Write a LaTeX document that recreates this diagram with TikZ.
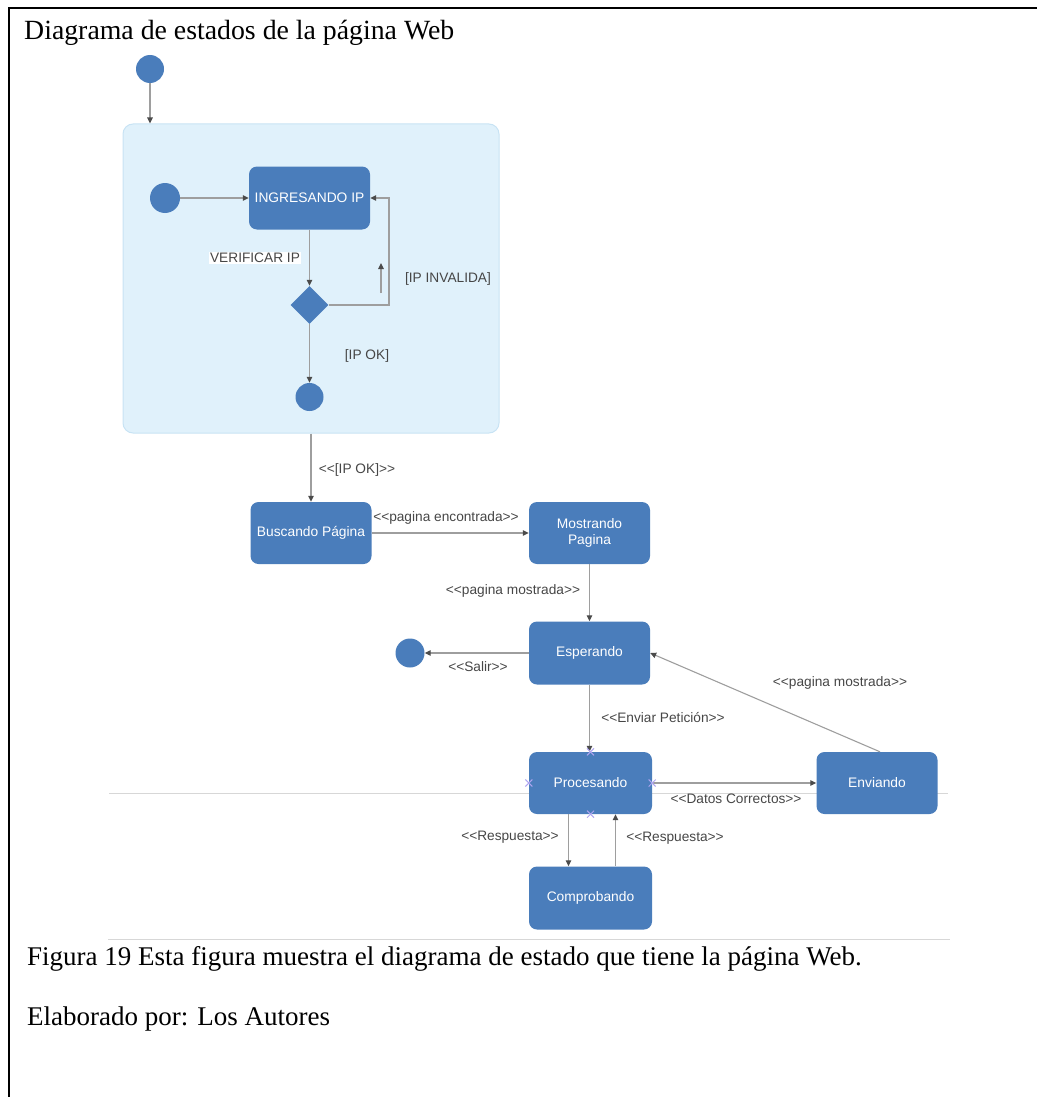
\documentclass[tikz,border=0pt]{standalone}
\usepackage{fontspec}
\setmainfont{Liberation Serif}
\newfontfamily\lbl{Liberation Sans}
\usetikzlibrary{arrows.meta,shapes.geometric,shapes.misc}

\definecolor{boxblue}{RGB}{74,125,187}
\definecolor{contfill}{RGB}{224,241,251}
\definecolor{contdraw}{RGB}{200,227,244}
\definecolor{linegray}{RGB}{158,158,158}
\definecolor{tipgray}{RGB}{75,75,75}
\definecolor{textgray}{RGB}{70,70,70}
\definecolor{markpurple}{RGB}{175,165,240}
\definecolor{rulegray}{RGB}{215,215,215}

% guillemet-like brackets kept as two separate characters
\newcommand\lgl{<\kern0pt<}
\newcommand\rgl{>\kern0pt>}

\tikzset{
  statebox/.style={fill=boxblue, rounded corners=8pt, text=white, align=center,
    minimum width=121pt, minimum height=62pt, inner sep=2pt,
    font=\lbl\fontsize{13.8}{16}\selectfont},
  dot/.style={circle, fill=boxblue, minimum size=28pt, inner sep=0pt},
  choice/.style={diamond, fill=boxblue, minimum size=38pt, inner sep=0pt},
  arr/.style={draw=linegray, line width=1.1pt,
    -{Triangle[length=6pt,width=5.5pt,color=tipgray]}},
  lab/.style={text=textgray, inner sep=1pt, font=\lbl\fontsize{13.7}{15}\selectfont},
  xmark/.style={cross out, draw=markpurple, line width=1pt, minimum size=6pt, inner sep=0pt},
  serif/.style={inner sep=0pt, anchor=base west}
}

\begin{document}
\begin{tikzpicture}[x=1pt, y=-1pt]
\useasboundingbox (0,0) rectangle (1037,1097);

% page frame
\draw[line width=2pt] (9,1097) -- (9,8) -- (1037,8);

% title
\node[serif, font=\fontsize{27.8}{30}\selectfont] (title) at (24,40) {Diagrama de estados de la página Web};

% thin rules
\draw[rulegray, line width=1pt] (109,793) -- (948,793);
\draw[rulegray, line width=1pt] (108,939) -- (950,939);

% composite state
\node[draw=contdraw, fill=contfill, line width=1pt, rounded corners=10pt,
      minimum width=376pt, minimum height=309pt] (cont) at (311,278.5) {};

% states
\node[dot] (init0) at (150,69) {};
\node[dot, minimum size=30pt] (init1) at (165,198) {};
\node[statebox, minimum height=63pt] (ingr) at (309.5,198) {INGRESANDO IP};
\node[choice] (dia) at (309.5,305) {};
\node[dot] (fin1) at (309.5,397) {};

\node[statebox] (busc) at (311,533) {Buscando Página};
\node[statebox] (most) at (589.5,533) {Mostrando\\Pagina};
\node[statebox, minimum height=63pt] (esp) at (589.5,653) {Esperando};
\node[dot, minimum size=29pt] (fin2) at (410,653) {};
\node[statebox, minimum width=123pt] (proc) at (590.5,783) {Procesando};
\node[statebox] (env) at (877,783) {Enviando};
\node[statebox, minimum width=123pt, minimum height=63pt] (comp) at (590.5,898) {Comprobando};

% transitions
\draw[arr] (init0.south) -- (init0.south |- cont.north);
\draw[arr] (init1.east) -- (ingr.west);
\draw[arr] (ingr.south) -- (dia.north);
\coordinate (loopc) at (389,305);
\draw[arr] (dia.east) -- (loopc) |- (ingr.east);
\coordinate (upa) at (381,293);
\coordinate (upb) at (381,263);
\draw[arr] (upa) -- (upb);
\draw[arr] (dia.south) -- (fin1.north);

\draw[arr] (cont.south -| busc.north) -- (busc.north);
\draw[arr] (busc.east) -- (most.west);
\draw[arr] (most.south) -- (esp.north);
\draw[arr] (esp.west) -- (fin2.east);
\draw[arr] (esp.south) -- (esp.south |- proc.north);
\draw[arr] (proc.east) -- (env.west);
\draw[arr] ([xshift=3pt]env.north) -- (esp.east);
\draw[arr] ([xshift=-22pt]proc.south) -- ([xshift=-22pt]comp.north);
\draw[arr] ([xshift=25pt]comp.north) -- ([xshift=25pt]proc.south);

% connection point marks
\node[xmark] (mn) at (proc.north) {};
\node[xmark] (mw) at (proc.west) {};
\node[xmark] (me) at (proc.east) {};
\node[xmark] (ms) at (proc.south) {};

% transition labels
\node[lab, fill=white] (l1) at (255,258) {VERIFICAR IP};
\node[lab] (l2) at (448,279) {[IP INVALIDA]};
\node[lab] (l3) at (367,356) {[IP OK]};
\node[lab] (l4) at (357,470) {\lgl[IP OK]\rgl};
\node[lab] (l5) at (446,518) {\lgl pagina encontrada\rgl};
\node[lab] (l6) at (513,591) {\lgl pagina mostrada\rgl};
\node[lab] (l7) at (478,667) {\lgl Salir\rgl};
\node[lab] (l8) at (663,718) {\lgl Enviar Petición\rgl};
\node[lab] (l9) at (736,799) {\lgl Datos Correctos\rgl};
\node[lab] (l10) at (840,683) {\lgl pagina mostrada\rgl};
\node[lab] (l11) at (510,837) {\lgl Respuesta\rgl};
\node[lab] (l12) at (675,838) {\lgl Respuesta\rgl};

% caption
\node[serif, font=\fontsize{27}{30}\selectfont] (cap) at (27,965) {Figura 19 Esta figura muestra el diagrama de estado que tiene la página Web.};
\node[serif, font=\fontsize{27}{30}\selectfont] (auth) at (27,1025) {Elaborado por: Los Autores};
\end{tikzpicture}
\end{document}
